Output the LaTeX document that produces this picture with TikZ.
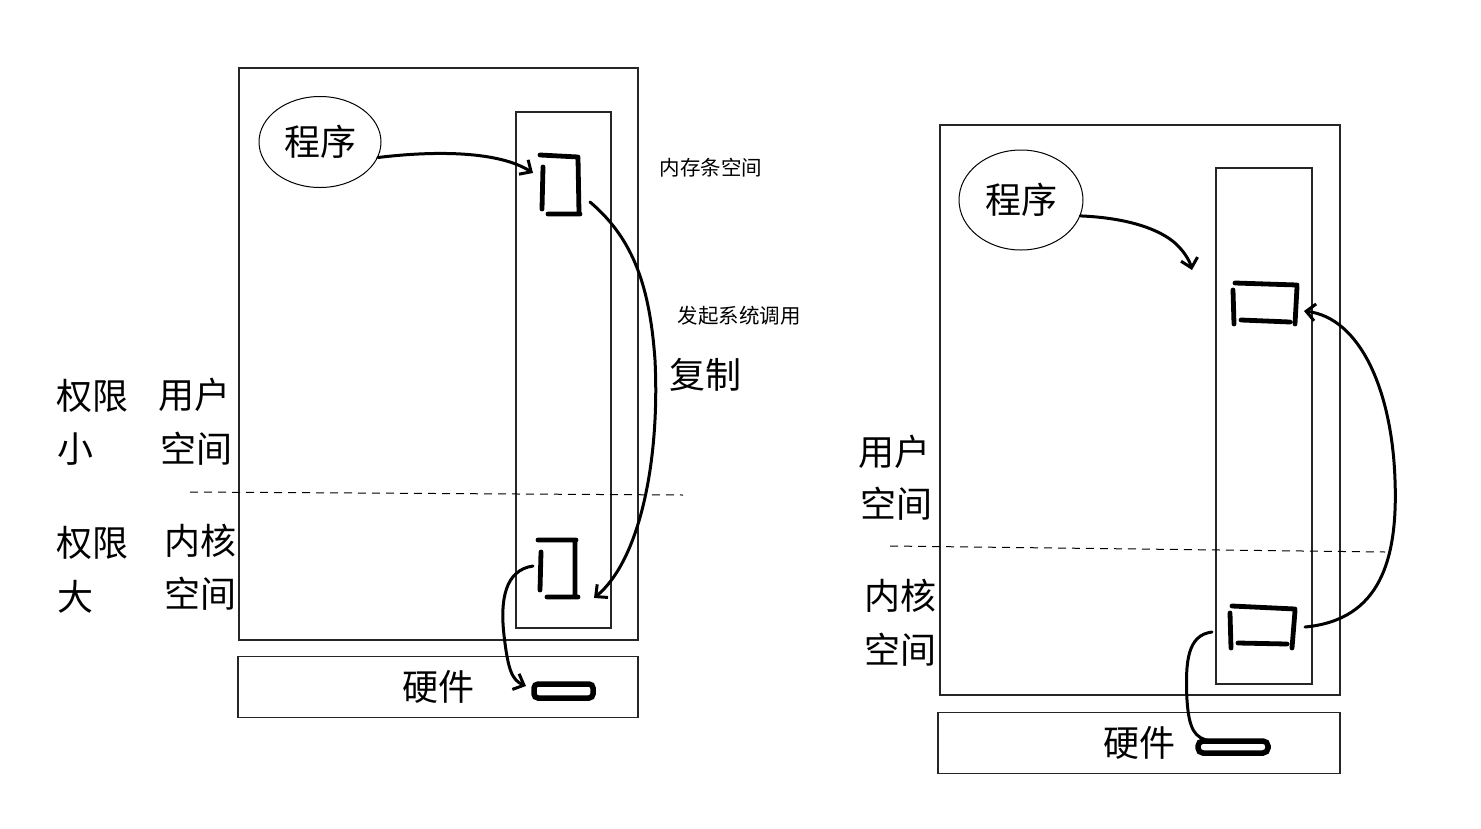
\documentclass[tikz,border=0pt]{standalone}
\usepackage{fontspec}
\newfontfamily\cjk{Noto Sans CJK SC}
\usetikzlibrary{arrows.meta,shapes.geometric}
\tikzset{
	frame/.style={draw=black!85, line width=1.2pt},
	bigtext/.style={font=\cjk\fontsize{36}{40}\selectfont, inner sep=0pt},
	smalltext/.style={font=\cjk\fontsize{20.5}{24}\selectfont, inner sep=0pt},
	pen/.style={line width=4.8pt, line cap=round},
	flow/.style={line width=3pt, line cap=round, -{Straight Barb[length=9pt,width=17pt]}},
	cut/.style={line width=1pt, dash pattern=on 8pt off 6pt},
}
\begin{document}
\begin{tikzpicture}[x=1pt,y=-1pt]
	\useasboundingbox (0,0) rectangle (1481,828);
	% left
	\draw[frame](239,68) rectangle (638,640);
	\draw[frame](516,112) rectangle (611,628);
	\node[frame, bigtext, minimum width=400pt, minimum height=61pt] (hwL) at (438,687) {硬件};
	\node[draw, ellipse, line width=1pt, bigtext, minimum width=122pt, minimum height=91pt] (progL) at (320,142) {程序};
	\node[smalltext] (memL) at (711,168) {内存条空间};
	\node[smalltext] (callL) at (739,316) {发起系统调用};
	\node[bigtext] (copyL) at (705,375) {复制};
	\node[bigtext] (rightsA) at (92,396) {权限};
	\node[bigtext] (rightsB) at (75,449) {小};
	\node[bigtext] (userL1) at (194,395) {用户};
	\node[bigtext] (userL2) at (196,449) {空间};
	\node[bigtext] (rightsC) at (92,543) {权限};
	\node[bigtext] (rightsD) at (75,597) {大};
	\node[bigtext] (kernL1) at (200,541) {内核};
	\node[bigtext] (kernL2) at (200,594) {空间};
	\draw[cut](190,492) -- (683,495);
	\draw[pen](540,155) -- (578,157) (578,158) -- (579,213) (543,167) -- (542,209) (548,214) -- (580,214);
	\draw[pen](538,540) -- (576,540) (575,542) -- (575,597) (541,552) -- (540,590) (547,597) -- (578,597);
	\draw[pen, line width=5.5pt, rounded corners=4pt](534,684) rectangle (593,698);
	\coordinate (bufL) at (533,173);
	\coordinate (bufLout) at (590,202);
	\coordinate (kerL) at (594,598);
	\coordinate (kerLout) at (533,566);
	\coordinate (devL) at (526,686);
	\draw[flow](progL.-15) .. controls (440,150) and (500,152) .. (bufL);
	\draw[flow](bufLout) .. controls (635,240) and (650,290) .. (655,360) .. controls (660,460) and (640,560) .. (kerL);
	\draw[flow](kerLout) .. controls (505,570) and (500,600) .. (504,635) .. controls (508,670) and (512,680) .. (devL);
	% right
	\draw[frame](940,125) rectangle (1340,695);
	\draw[frame](1216,168) rectangle (1312,684);
	\node[frame, bigtext, minimum width=402pt, minimum height=61pt] (hwR) at (1139,743) {硬件};
	\node[draw, ellipse, line width=1pt, bigtext, minimum width=124pt, minimum height=100pt] (progR) at (1021,200) {程序};
	\node[bigtext] (userR1) at (894,452) {用户};
	\node[bigtext] (userR2) at (896,504) {空间};
	\node[bigtext] (kernR1) at (900,596) {内核};
	\node[bigtext] (kernR2) at (900,650) {空间};
	\draw[cut](890,546) -- (1385,552);
	\draw[pen](1235,283) -- (1297,285) (1297,287) -- (1295,324) (1233,290) -- (1234,324) (1241,320) -- (1290,322);
	\draw[pen](1232,606) -- (1295,609) (1295,611) -- (1292,648) (1230,613) -- (1231,648) (1238,643) -- (1287,644);
	\draw[pen, line width=5.5pt, rounded corners=5pt](1198,741) rectangle (1268,753);
	\coordinate (bufR) at (1192,270);
	\coordinate (bufRin) at (1304,311);
	\coordinate (kerRout) at (1305,627);
	\coordinate (kerRdev) at (1212,632);
	\coordinate (devR) at (1210,741);
	\draw[flow](progR.-15) .. controls (1130,218) and (1160,230) .. (1175,243) .. controls (1185,252) and (1190,262) .. (bufR);
	\draw[flow](kerRout) .. controls (1380,620) and (1398,560) .. (1395,480) .. controls (1392,390) and (1360,318) .. (bufRin);
	\draw[line width=3pt, line cap=round](kerRdev) .. controls (1188,635) and (1185,660) .. (1187,700) .. controls (1189,730) and (1195,738) .. (devR);
\end{tikzpicture}
\end{document}
